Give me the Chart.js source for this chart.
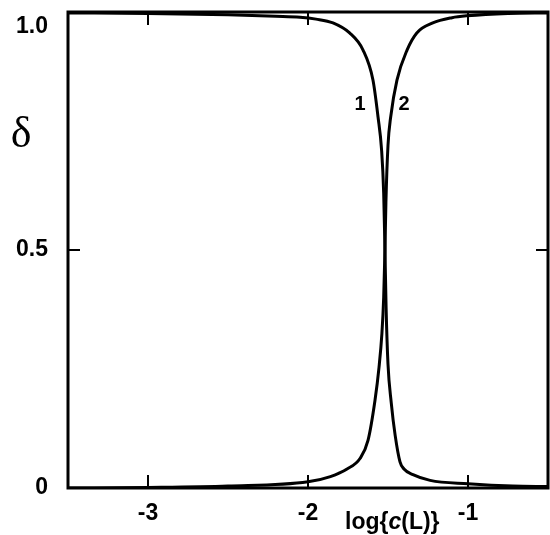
<!DOCTYPE html>
<html>
<head>
<meta charset="utf-8">
<script src="https://cdn.jsdelivr.net/npm/chart.js@4/dist/chart.umd.min.js"></script>
<style>
  html, body { margin: 0; padding: 0; background: #fff; }
  #wrap { width: 550px; height: 535px; }
</style>
</head>
<body>
<div id="wrap"><canvas id="chart" width="550" height="535"></canvas></div>
<script>
// curve 1: delta falls from 1 to 0
const curve1X = [-3.5, -3.0, -2.5, -2.2, -2.05, -1.95, -1.844, -1.74, -1.656, -1.594, -1.5625, -1.54, -1.527, -1.519, -1.512, -1.50, -1.48, -1.455, -1.425, -1.40, -1.344, -1.237, -1.0, -0.72, -0.5];
const curve1Y = [0.998, 0.997, 0.994, 0.991, 0.989, 0.985, 0.977, 0.956, 0.92, 0.857, 0.78, 0.71, 0.62, 0.5, 0.38, 0.26, 0.18, 0.11, 0.055, 0.04, 0.028, 0.016, 0.009, 0.004, 0.003];
// curve 2: delta rises from 0 to 1
const curve2X = [-3.5, -3.0, -2.5, -2.0, -1.86, -1.756, -1.675, -1.625, -1.581, -1.556, -1.538, -1.527, -1.519, -1.513, -1.50, -1.483, -1.444, -1.381, -1.32, -1.22, -1.1, -1.006, -0.75, -0.5];
const curve2Y = [0.0, 0.001, 0.004, 0.013, 0.024, 0.04, 0.062, 0.1, 0.185, 0.254, 0.325, 0.4, 0.5, 0.6, 0.72, 0.78, 0.857, 0.92, 0.956, 0.977, 0.988, 0.992, 0.997, 0.998];

const xTicks = [-3, -2, -1];
const yTicks = [0, 0.5, 1.0];
const curveLabels = ['1', '2'];
const curveLabelX = [-1.675, -1.40];
const curveLabelY = [0.805, 0.805];

const tickFont = { family: 'Liberation Sans, Arial, sans-serif', size: 23, weight: 'bold' };

function toPoints(xs, ys) {
  return xs.map((x, i) => ({ x: x, y: ys[i] }));
}

const framePlugin = {
  id: 'frame',
  afterDraw(chart) {
    const { ctx, chartArea: a, scales } = chart;
    const xs = scales.x, ys = scales.y;
    ctx.save();
    ctx.strokeStyle = '#000';
    ctx.lineWidth = 3;
    ctx.strokeRect(a.left, a.top, a.right - a.left, a.bottom - a.top);

    // inward tick marks
    ctx.lineWidth = 2;
    ctx.beginPath();
    xTicks.forEach(v => {
      const px = xs.getPixelForValue(v);
      ctx.moveTo(px, a.bottom); ctx.lineTo(px, a.bottom - 13);
      ctx.moveTo(px, a.top); ctx.lineTo(px, a.top + 13);
    });
    [0.5].forEach(v => {
      const py = ys.getPixelForValue(v);
      ctx.moveTo(a.left, py); ctx.lineTo(a.left + 12, py);
      ctx.moveTo(a.right, py); ctx.lineTo(a.right - 12, py);
    });
    ctx.stroke();

    ctx.fillStyle = '#000';
    // 1.0 label sits a little below the top edge in the original
    ctx.font = 'bold 23px "Liberation Sans", Arial, sans-serif';
    ctx.textAlign = 'right';
    ctx.textBaseline = 'middle';
    ctx.fillText('1.0', a.left - 20, ys.getPixelForValue(1.0) + 15);

    // curve numbers
    ctx.font = 'bold 20px "Liberation Sans", Arial, sans-serif';
    ctx.textAlign = 'center';
    curveLabels.forEach((t, i) => {
      ctx.fillText(t, xs.getPixelForValue(curveLabelX[i]), ys.getPixelForValue(curveLabelY[i]));
    });

    // y axis symbol
    ctx.font = '44px "Liberation Serif", "Times New Roman", serif';
    ctx.textAlign = 'center';
    ctx.textBaseline = 'alphabetic';
    ctx.fillText('\u03b4', 21, 147);

    // x axis title: log{c(L)} with italic c
    ctx.textAlign = 'left';
    const parts = [['log{', 'bold'], ['c', 'italic bold'], ['(L)}', 'bold']];
    let tx = 345;
    parts.forEach(([s, st]) => {
      ctx.font = st + ' 23px "Liberation Sans", Arial, sans-serif';
      ctx.fillText(s, tx, 529);
      tx += ctx.measureText(s).width;
    });
    ctx.restore();
  }
};

new Chart(document.getElementById('chart'), {
  type: 'line',
  data: {
    datasets: [
      { label: '1', data: toPoints(curve1X, curve1Y), borderColor: '#000', borderWidth: 3, pointRadius: 0, cubicInterpolationMode: 'monotone', fill: false },
      { label: '2', data: toPoints(curve2X, curve2Y), borderColor: '#000', borderWidth: 3, pointRadius: 0, cubicInterpolationMode: 'monotone', fill: false }
    ]
  },
  options: {
    responsive: false,
    animation: false,
    layout: { padding: { top: 12, right: 2, left: 0, bottom: 0 } },
    plugins: { legend: { display: false }, tooltip: { enabled: false } },
    scales: {
      x: {
        type: 'linear',
        min: -3.5,
        max: -0.5,
        afterBuildTicks: s => { s.ticks = xTicks.map(v => ({ value: v })); },
        afterFit: s => { s.height = 47; s.paddingLeft = 0; s.paddingRight = 0; },
        grid: { display: false, drawTicks: false },
        border: { display: false },
        ticks: { color: '#000', font: tickFont, padding: 12, maxRotation: 0, callback: v => String(v) }
      },
      y: {
        type: 'linear',
        min: 0,
        max: 1,
        afterBuildTicks: s => { s.ticks = yTicks.map(v => ({ value: v })); },
        afterFit: s => { s.width = 68; s.paddingTop = 0; s.paddingBottom = 0; },
        grid: { display: false, drawTicks: false },
        border: { display: false },
        ticks: { color: '#000', font: tickFont, padding: 20, callback: v => (v === 0 ? '0' : v === 1 ? '' : v.toFixed(1)) }
      }
    }
  },
  plugins: [framePlugin]
});
</script>
</body>
</html>
